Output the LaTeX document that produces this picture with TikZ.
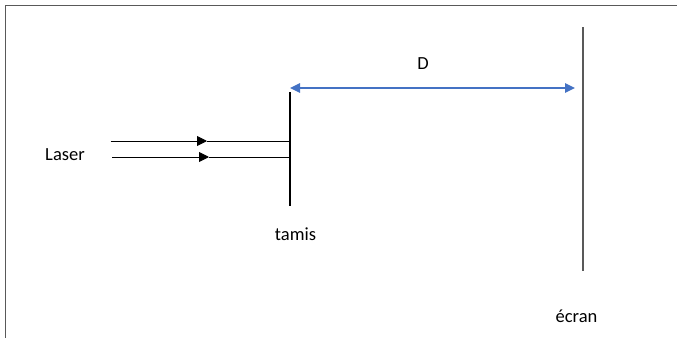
\documentclass[tikz,border=0pt]{standalone}
\usepackage{fontspec}
\setmainfont{Carlito}
\usetikzlibrary{arrows.meta}
\definecolor{frame}{HTML}{595959}
\definecolor{blueD}{HTML}{4472C4}
\begin{document}
\begin{tikzpicture}[x=1pt,y=-1pt,
  lbl/.style={anchor=base,inner sep=0pt,font=\fontsize{18.5}{22}\selectfont},
  ray/.style={draw=black,line width=0.9pt},
  rayarrow/.style={ray,-{Triangle[length=10pt,width=10pt]}},
  tamisline/.style={draw=black,line width=2.6pt},
  ecranline/.style={draw=frame,line width=1.4pt},
  distarrow/.style={draw=blueD,line width=1.3pt,{Triangle[length=10pt,width=9.5pt]}-{Triangle[length=10pt,width=9.5pt]}},
  framel/.style={draw=frame,line width=1.5pt}]
\useasboundingbox (0,0) rectangle (677,338);
% frame
\coordinate (fr) at (677,5.5);
\coordinate (fc) at (5.5,5.5);
\coordinate (fb) at (5.5,338);
\draw[framel] (fr) -- (fc) -- (fb);
% tamis
\coordinate (t1) at (290,92);
\coordinate (t2) at (290,206);
\draw[tamisline] (t1) -- (t2);
% ecran
\coordinate (e1) at (583,27);
\coordinate (e2) at (583,271);
\draw[ecranline] (e1) -- (e2);
% rays
\coordinate (r1s) at (110.5,141);
\coordinate (r1m) at (207,141);
\coordinate (r1e) at (289,141);
\coordinate (r2s) at (112,157);
\coordinate (r2m) at (209,157);
\coordinate (r2e) at (289,157);
\draw[rayarrow] (r1s) -- (r1m);
\draw[ray] (r1m) -- (r1e);
\draw[rayarrow] (r2s) -- (r2m);
\draw[ray] (r2m) -- (r2e);
% distance
\coordinate (d1) at (290,88);
\coordinate (d2) at (575,88);
\draw[distarrow] (d1) -- (d2);
% labels
\node[lbl] (laser) at (65,160) {Laser};
\node[lbl] (tamis) at (295.5,240) {tamis};
\node[lbl] (D) at (423,69) {D};
\node[lbl] (ecran) at (576.5,322) {écran};
\end{tikzpicture}
\end{document}
